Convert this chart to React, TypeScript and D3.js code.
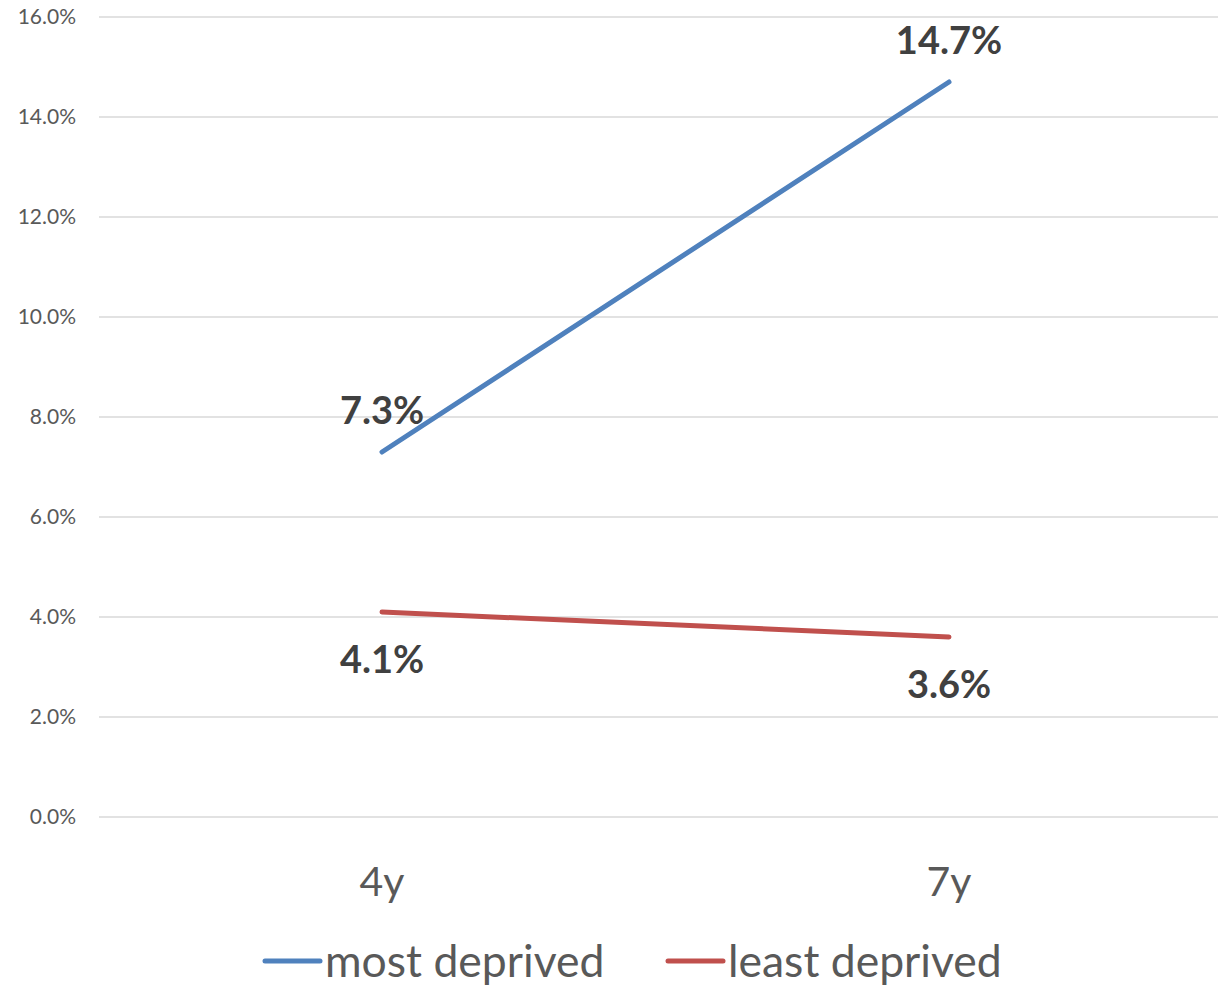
import React from "react";
import * as d3 from "d3";

const categories = ["4y", "7y"];
const mostDeprived = [0.073, 0.147];
const leastDeprived = [0.041, 0.036];
const yTicks = [0, 0.02, 0.04, 0.06, 0.08, 0.1, 0.12, 0.14, 0.16];
const seriesNames = ["most deprived", "least deprived"];

const W = 1218;
const H = 988;
const FONT = "Lato, 'Open Sans', sans-serif";

export default function App() {
  const x = d3.scalePoint<string>().domain(categories).range([382, 949]);
  const y = d3.scaleLinear().domain([0, 0.16]).range([817, 17]);
  const line = d3
    .line<number>()
    .x((_, i) => x(categories[i]) as number)
    .y((d) => y(d));
  const fmt = d3.format(".1%");
  const series = [
    { name: seriesNames[0], values: mostDeprived, color: "#4F81BD", dy: -43 },
    { name: seriesNames[1], values: leastDeprived, color: "#C0504D", dy: 46 },
  ];
  return (
    <svg
      width={W}
      height={H}
      style={{ position: "absolute", left: 0, top: 0, background: "#fff" }}
      fontFamily={FONT}
    >
      {yTicks.map((t) => (
        <g key={t}>
          <line x1={99} x2={W} y1={y(t)} y2={y(t)} stroke="#D9D9D9" strokeWidth={1.5} />
          <text
            x={76}
            y={y(t) - 1.5}
            textAnchor="end"
            dominantBaseline="central"
            fontSize={21}
            fill="#595959"
          >
            {fmt(t)}
          </text>
        </g>
      ))}
      {categories.map((c) => (
        <text
          key={c}
          x={x(c)}
          y={880}
          textAnchor="middle"
          dominantBaseline="central"
          fontSize={41}
          fill="#595959"
        >
          {c}
        </text>
      ))}
      {series.map((s) => (
        <g key={s.name}>
          <path
            d={line(s.values) || ""}
            fill="none"
            stroke={s.color}
            strokeWidth={5}
            strokeLinecap="round"
          />
          {s.values.map((v, i) => (
            <text
              key={i}
              x={x(categories[i])}
              y={y(v) + s.dy}
              textAnchor="middle"
              dominantBaseline="central"
              fontSize={38}
              fontWeight="bold"
              fill="#404040"
            >
              {fmt(v)}
            </text>
          ))}
        </g>
      ))}
      {series.map((s, i) => {
        const lx = i === 0 ? 265 : 668;
        return (
          <g key={"lg" + s.name}>
            <line
              x1={lx}
              x2={lx + 55}
              y1={961}
              y2={961}
              stroke={s.color}
              strokeWidth={5}
              strokeLinecap="round"
            />
            <text
              x={lx + 60}
              y={959}
              dominantBaseline="central"
              fontSize={44.5}
              fill="#595959"
            >
              {s.name}
            </text>
          </g>
        );
      })}
    </svg>
  );
}
